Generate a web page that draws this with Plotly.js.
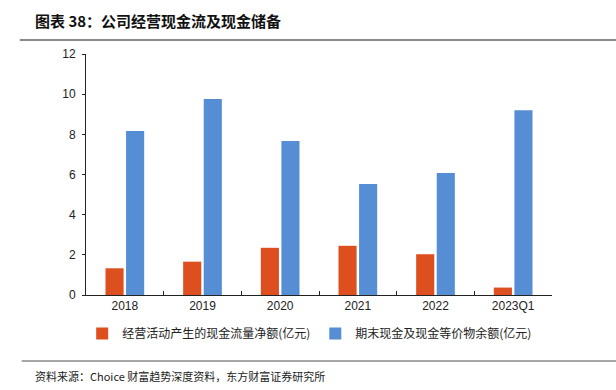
<!DOCTYPE html>
<html><head><meta charset="utf-8">
<script src="https://cdn.plot.ly/plotly-3.0.1.min.js"></script>
<style>body{margin:0;background:#fff}#chart{width:616px;height:390px}</style>
</head><body><div id="chart"></div>
<script>
const categories = ['2018','2019','2020','2021','2022','2023Q1'];
const operatingCashFlow = [1.33, 1.66, 2.35, 2.45, 2.03, 0.37];
const cashBalance = [8.17, 9.76, 7.67, 5.53, 6.08, 9.2];
const seriesNames = ['经营活动产生的现金流量净额(亿元)', '期末现金及现金等价物余额(亿元)'];
const yTicks = [0, 2, 4, 6, 8, 10, 12];

const cjk = '"Noto Sans CJK SC", "Liberation Sans", sans-serif';
const traces = [
  {type:'bar', x:categories, y:operatingCashFlow, name:seriesNames[0], marker:{color:'#DD4F1F'}},
  {type:'bar', x:categories, y:cashBalance, name:seriesNames[1], marker:{color:'#558ED5'}}
];
const layout = {
  width:616, height:390,
  margin:{l:86, r:64, t:54, b:95},
  paper_bgcolor:'#fff', plot_bgcolor:'#fff',
  barmode:'group', bargap:0.47, bargroupgap:0.12,
  font:{family:'"Liberation Sans", Arial, sans-serif', size:12, color:'#222'},
  xaxis:{type:'category', showline:true, linecolor:'#222', linewidth:1, ticks:'inside', tickson:'boundaries', ticklen:4, tickcolor:'#222',
         tickfont:{size:12, color:'#222'}, showgrid:false, zeroline:false},
  yaxis:{range:[0,12], tickvals:yTicks, showline:true, linecolor:'#222', linewidth:1, ticks:'outside', ticklen:3, tickcolor:'#222',
         tickfont:{size:12, color:'#222'}, showgrid:false, zeroline:false, ticklabelstandoff:4},
  showlegend:true,
  legend:{orientation:'h', x:0.48, xanchor:'center', y:-0.16, yanchor:'middle', font:{family:cjk, size:12, color:'#222'},
          itemwidth:30, tracegroupgap:0, traceorder:'normal'},
  annotations:[
    {xref:'paper', yref:'paper', x:-0.114, xanchor:'left', y:1.0, yanchor:'bottom', yshift:21, showarrow:false,
     text:'<b>图表 38：公司经营现金流及现金储备</b>', font:{family:cjk, size:15, color:'#111'}},
    {xref:'paper', yref:'paper', x:-0.114, xanchor:'left', y:0, yanchor:'top', yshift:-71, showarrow:false,
     text:'资料来源：Choice 财富趋势深度资料，东方财富证券研究所', font:{family:cjk, size:11, color:'#222'}}
  ],
  shapes:[
    {type:'line', xref:'paper', yref:'paper', x0:-0.142, x1:1.14, y0:1.058, y1:1.058, line:{color:'#8a8a8a', width:2}},
    {type:'line', xref:'paper', yref:'paper', x0:-0.138, x1:1.14, y0:-0.274, y1:-0.274, line:{color:'#8a8a8a', width:1.5}}
  ]
};
Plotly.newPlot('chart', traces, layout, {displayModeBar:false, staticPlot:true});
</script></body></html>
